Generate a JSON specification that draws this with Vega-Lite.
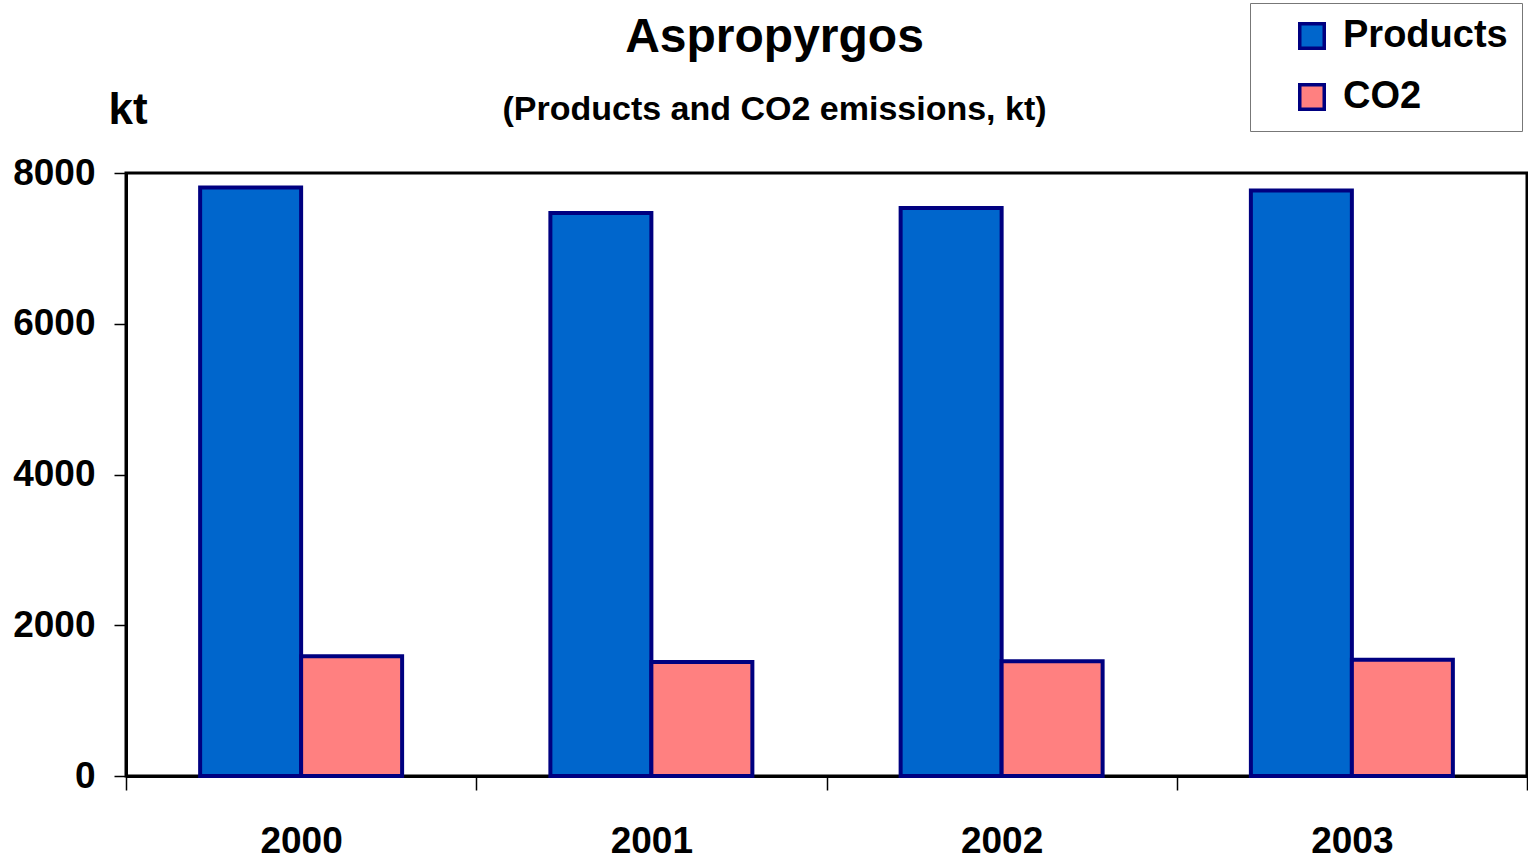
{
  "$schema": "https://vega.github.io/schema/vega-lite/v6.json",
  "autosize": {"type": "none"},
  "width": 1401,
  "height": 603,
  "padding": {"left": 126, "top": 173, "right": 1, "bottom": 88},
  "background": "white",
  "title": {
    "text": "Aspropyrgos",
    "subtitle": "(Products and CO2 emissions, kt)",
    "anchor": "middle",
    "frame": "group",
    "dx": -52,
    "offset": -124,
    "font": "Liberation Sans",
    "fontSize": 48,
    "fontWeight": "bold",
    "color": "black",
    "subtitleFont": "Liberation Sans",
    "subtitleFontSize": 34,
    "subtitleFontWeight": "bold",
    "subtitleColor": "black",
    "subtitlePadding": 31
  },
  "config": {
    "view": {"stroke": "black", "strokeWidth": 3},
    "axis": {
      "labelFont": "Liberation Sans",
      "labelFontWeight": "bold",
      "labelColor": "black",
      "titleFont": "Liberation Sans",
      "titleFontWeight": "bold",
      "titleColor": "black",
      "domainColor": "black",
      "domainWidth": 3,
      "tickColor": "black",
      "tickWidth": 1.5,
      "grid": false
    }
  },
  "data": {
    "values": [
      {"year": "2000", "series": "Products", "kt": 7808},
      {"year": "2000", "series": "CO2", "kt": 1588},
      {"year": "2001", "series": "Products", "kt": 7469},
      {"year": "2001", "series": "CO2", "kt": 1512},
      {"year": "2002", "series": "Products", "kt": 7536},
      {"year": "2002", "series": "CO2", "kt": 1522},
      {"year": "2003", "series": "Products", "kt": 7768},
      {"year": "2003", "series": "CO2", "kt": 1543}
    ]
  },
  "mark": {"type": "bar", "stroke": "#000080", "strokeWidth": 4, "strokeJoin": "miter"},
  "encoding": {
    "x": {
      "field": "year",
      "type": "nominal",
      "scale": {"paddingInner": 0, "paddingOuter": 0},
      "axis": {
        "title": null,
        "labelAngle": 0,
        "labelFontSize": 37,
        "labelPadding": 33,
        "tickSize": 14,
        "tickBand": "extent",
        "labelBaseline": "top"
      }
    },
    "xOffset": {
      "field": "series",
      "type": "nominal",
      "sort": ["Products", "CO2"],
      "scale": {"paddingInner": 0, "paddingOuter": 0.734}
    },
    "y": {
      "field": "kt",
      "type": "quantitative",
      "scale": {"domain": [0, 8000], "nice": false},
      "axis": {
        "values": [0, 2000, 4000, 6000, 8000],
        "format": "d",
        "labelFontSize": 37,
        "labelPadding": 19,
        "tickSize": 12,
        "title": "kt",
        "titleFontSize": 44,
        "titleAngle": 0,
        "titleAlign": "left",
        "titleBaseline": "alphabetic",
        "titleX": -18,
        "titleY": -50
      }
    },
    "color": {
      "field": "series",
      "type": "nominal",
      "sort": ["Products", "CO2"],
      "scale": {"domain": ["Products", "CO2"], "range": ["#0066CC", "#FF8080"]},
      "legend": {
        "title": null,
        "orient": "none",
        "legendX": 1124,
        "legendY": -170,
        "direction": "vertical",
        "symbolType": "square",
        "symbolSize": 600,
        "symbolStrokeColor": "#000080",
        "symbolStrokeWidth": 3.5,
        "symbolOpacity": 1,
        "symbolOffset": 29,
        "labelFont": "Liberation Sans",
        "labelFontWeight": "bold",
        "labelFontSize": 38,
        "labelLimit": 400,
        "labelColor": "black",
        "labelOffset": 12,
        "rowPadding": 21,
        "padding": 14,
        "strokeColor": "#777777",
        "fillColor": "white"
      }
    }
  }
}
